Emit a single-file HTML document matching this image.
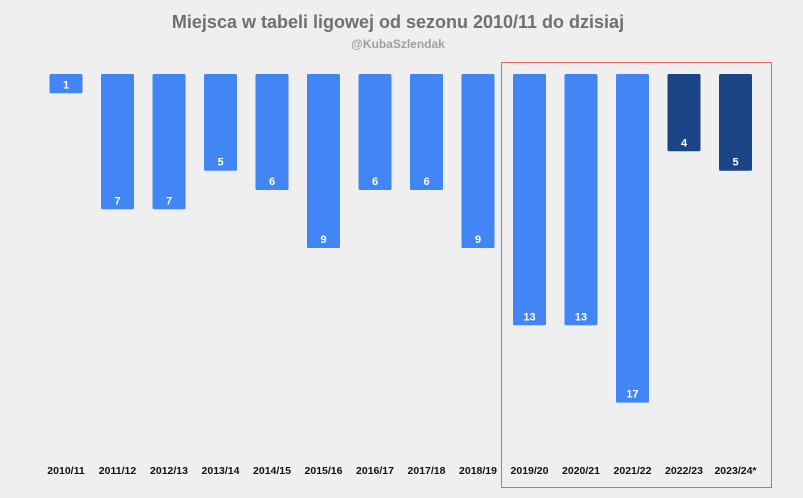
<!DOCTYPE html>
<html><head><meta charset="utf-8"><style>
html,body{margin:0;padding:0;background:#efefef;}
svg{display:block;font-family:"Liberation Sans",Arial,sans-serif;}
</style></head><body>
<svg width="803" height="498" viewBox="0 0 803 498">
<rect width="803" height="498" fill="#efefef"/>
<text x="398" y="28" text-anchor="middle" font-size="18" font-weight="bold" fill="#707070">Miejsca w tabeli ligowej od sezonu 2010/11 do dzisiaj</text>
<text x="398" y="48" text-anchor="middle" font-size="12" font-weight="bold" fill="#a0a0a0">@KubaSzlendak</text>
<rect x="501.5" y="62.5" width="270" height="425" fill="none" stroke="#e06666" stroke-width="1"/>
<g fill="#4285f4">
<rect x="49.5" y="74" width="33" height="19.3" rx="1.5"/>
<rect x="101" y="74" width="33" height="135.3" rx="1.5"/>
<rect x="152.5" y="74" width="33" height="135.3" rx="1.5"/>
<rect x="204" y="74" width="33" height="96.7" rx="1.5"/>
<rect x="255.5" y="74" width="33" height="116" rx="1.5"/>
<rect x="307" y="74" width="33" height="174" rx="1.5"/>
<rect x="358.5" y="74" width="33" height="116" rx="1.5"/>
<rect x="410" y="74" width="33" height="116" rx="1.5"/>
<rect x="461.5" y="74" width="33" height="174" rx="1.5"/>
<rect x="513" y="74" width="33" height="251.3" rx="1.5"/>
<rect x="564.5" y="74" width="33" height="251.3" rx="1.5"/>
<rect x="616" y="74" width="33" height="328.6" rx="1.5"/>
</g>
<g fill="#1c4587">
<rect x="667.5" y="74" width="33" height="77.3" rx="1.5"/>
<rect x="719" y="74" width="33" height="96.7" rx="1.5"/>
</g>
<g font-size="11" font-weight="bold" text-anchor="middle" fill="#fff">
<text x="66" y="88.3">1</text>
<text x="117.5" y="204.3">7</text>
<text x="169" y="204.3">7</text>
<text x="220.5" y="165.7">5</text>
<text x="272" y="185">6</text>
<text x="323.5" y="243">9</text>
<text x="375" y="185">6</text>
<text x="426.5" y="185">6</text>
<text x="478" y="243">9</text>
<text x="529.5" y="320.3">13</text>
<text x="581" y="320.3">13</text>
<text x="632.5" y="397.6">17</text>
<text x="684" y="146.3">4</text>
<text x="735.5" y="165.7">5</text>
</g>
<g font-size="10.5" font-weight="bold" text-anchor="middle" fill="#111">
<text x="66" y="474">2010/11</text>
<text x="117.5" y="474">2011/12</text>
<text x="169" y="474">2012/13</text>
<text x="220.5" y="474">2013/14</text>
<text x="272" y="474">2014/15</text>
<text x="323.5" y="474">2015/16</text>
<text x="375" y="474">2016/17</text>
<text x="426.5" y="474">2017/18</text>
<text x="478" y="474">2018/19</text>
<text x="529.5" y="474">2019/20</text>
<text x="581" y="474">2020/21</text>
<text x="632.5" y="474">2021/22</text>
<text x="684" y="474">2022/23</text>
<text x="735.5" y="474">2023/24*</text>
</g>
</svg>
</body></html>
